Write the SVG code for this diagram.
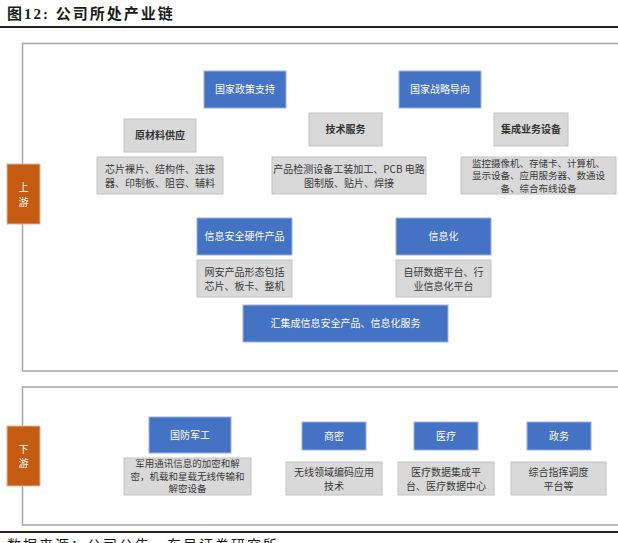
<svg xmlns="http://www.w3.org/2000/svg" width="618" height="543" viewBox="0 0 618 543">
<style>
  .blue { fill: #4472C4; stroke: #9DB3DD; stroke-width: 1; }
  .gray { fill: #D9D9D9; stroke: #C4C4C4; stroke-width: 1; }
  .orange { fill: #C55A11; stroke: #D8B9A6; stroke-width: 1; }
  .frame { fill: none; stroke: #A6A6A6; stroke-width: 1.5; }
  .tw { font-family: "Noto Sans CJK SC", "Liberation Sans", sans-serif; font-size: 10px; fill: #FFFFFF; text-anchor: middle; }
  .th { font-family: "Noto Sans CJK SC", "Liberation Sans", sans-serif; font-size: 10px; fill: #333333; text-anchor: middle; font-weight: bold; }
  .td { font-family: "Noto Sans CJK SC", "Liberation Sans", sans-serif; font-size: 10px; fill: #3A3A3A; text-anchor: middle; }
  .ts { font-family: "Noto Sans CJK SC", "Liberation Sans", sans-serif; font-size: 9.5px; fill: #3A3A3A; text-anchor: middle; }
</style>
<rect x="0" y="0" width="618" height="543" fill="#FFFFFF"/>
<g id="title">
  <text x="7" y="19" font-family="Liberation Serif, 'Noto Sans CJK SC', serif" font-size="15" font-weight="bold" fill="#1a1a1a" letter-spacing="2">图12: 公司所处产业链</text>
  <rect x="0" y="26" width="618" height="2" fill="#222222"/>
</g>
<g id="frames">
  <rect class="frame" x="22.5" y="43.5" width="620" height="327.5"/>
  <rect class="frame" x="22.5" y="387" width="620" height="138"/>
</g>
<g id="connectors"></g>
<g id="upstream-label">
  <rect class="orange" x="7" y="164" width="33" height="60"/>
  <text class="tw" x="23.5" y="191">上</text>
  <text class="tw" x="23.5" y="206">游</text>
</g>
<g id="downstream-label">
  <rect class="orange" x="7" y="426" width="33" height="60"/>
  <text class="tw" x="23.5" y="453">下</text>
  <text class="tw" x="23.5" y="467">游</text>
</g>
<g id="policy">
  <rect class="blue" x="204" y="71" width="82" height="37"/>
  <text class="tw" x="245" y="93">国家政策支持</text>
</g>
<g id="strategy">
  <rect class="blue" x="399" y="71" width="82" height="37"/>
  <text class="tw" x="440" y="93">国家战略导向</text>
</g>
<g id="raw-material">
  <rect class="gray" x="124" y="119" width="72" height="33"/>
  <text class="th" x="160" y="139">原材料供应</text>
</g>
<g id="tech-service">
  <rect class="gray" x="309" y="113" width="73" height="33"/>
  <text class="th" x="345.5" y="133">技术服务</text>
</g>
<g id="integration">
  <rect class="gray" x="494" y="113" width="74" height="33"/>
  <text class="th" x="531" y="133">集成业务设备</text>
</g>
<g id="raw-material-detail">
  <rect class="gray" x="97" y="157" width="126" height="37"/>
  <text class="td" x="160" y="172.5">芯片裸片、结构件、连接</text>
  <text class="td" x="160" y="187">器、印制板、阻容、辅料</text>
</g>
<g id="tech-service-detail">
  <rect class="gray" x="272" y="157" width="154" height="37"/>
  <text class="td" x="349" y="172.5">产品检测设备工装加工、PCB 电路</text>
  <text class="td" x="349" y="187">图制版、贴片、焊接</text>
</g>
<g id="integration-detail">
  <rect class="gray" x="461" y="157" width="155" height="37"/>
  <text class="ts" x="538.5" y="166.5">监控摄像机、存储卡、计算机、</text>
  <text class="ts" x="538.5" y="179">显示设备、应用服务器、数通设</text>
  <text class="ts" x="538.5" y="191.5">备、综合布线设备</text>
</g>
<g id="security-hw">
  <rect class="blue" x="197" y="218" width="95" height="37"/>
  <text class="tw" x="244.5" y="240">信息安全硬件产品</text>
</g>
<g id="informatization">
  <rect class="blue" x="396" y="218" width="95" height="37"/>
  <text class="tw" x="443.5" y="240">信息化</text>
</g>
<g id="security-hw-detail">
  <rect class="gray" x="197" y="260" width="95" height="37"/>
  <text class="td" x="244.5" y="275.5">网安产品形态包括</text>
  <text class="td" x="244.5" y="289.5">芯片、板卡、整机</text>
</g>
<g id="informatization-detail">
  <rect class="gray" x="396" y="260" width="95" height="37"/>
  <text class="td" x="443.5" y="275.5">自研数据平台、行</text>
  <text class="td" x="443.5" y="289.5">业信息化平台</text>
</g>
<g id="aggregate">
  <rect class="blue" x="243" y="305" width="205" height="37"/>
  <text class="tw" x="345.5" y="327">汇集成信息安全产品、信息化服务</text>
</g>
<g id="defense">
  <rect class="blue" x="149" y="417" width="82" height="36"/>
  <text class="tw" x="190" y="439">国防军工</text>
</g>
<g id="commercial-crypto">
  <rect class="blue" x="302" y="422" width="64" height="28"/>
  <text class="tw" x="334" y="440">商密</text>
</g>
<g id="medical">
  <rect class="blue" x="414" y="422" width="64" height="28"/>
  <text class="tw" x="446" y="440">医疗</text>
</g>
<g id="government">
  <rect class="blue" x="527" y="422" width="64" height="28"/>
  <text class="tw" x="559" y="440">政务</text>
</g>
<g id="defense-detail">
  <rect class="gray" x="124" y="458" width="127" height="37"/>
  <text class="ts" x="187.5" y="467">军用通讯信息的加密和解</text>
  <text class="ts" x="187.5" y="479.5">密，机载和星载无线传输和</text>
  <text class="ts" x="187.5" y="492">解密设备</text>
</g>
<g id="commercial-crypto-detail">
  <rect class="gray" x="286" y="462" width="96" height="33"/>
  <text class="td" x="334" y="475.5">无线领域编码应用</text>
  <text class="td" x="334" y="489.5">技术</text>
</g>
<g id="medical-detail">
  <rect class="gray" x="398" y="462" width="96" height="33"/>
  <text class="td" x="446" y="475.5">医疗数据集成平</text>
  <text class="td" x="446" y="489.5">台、医疗数据中心</text>
</g>
<g id="government-detail">
  <rect class="gray" x="511" y="462" width="95" height="33"/>
  <text class="td" x="558.5" y="475.5">综合指挥调度</text>
  <text class="td" x="558.5" y="489.5">平台等</text>
</g>
<g id="footer">
  <rect x="0" y="531" width="618" height="2" fill="#222222"/>
  <text x="7" y="550" font-family="'Noto Sans CJK SC', sans-serif" font-size="14" fill="#1a1a1a" letter-spacing="2">数据来源：公司公告，东吴证券研究所</text>
</g>
</svg>
